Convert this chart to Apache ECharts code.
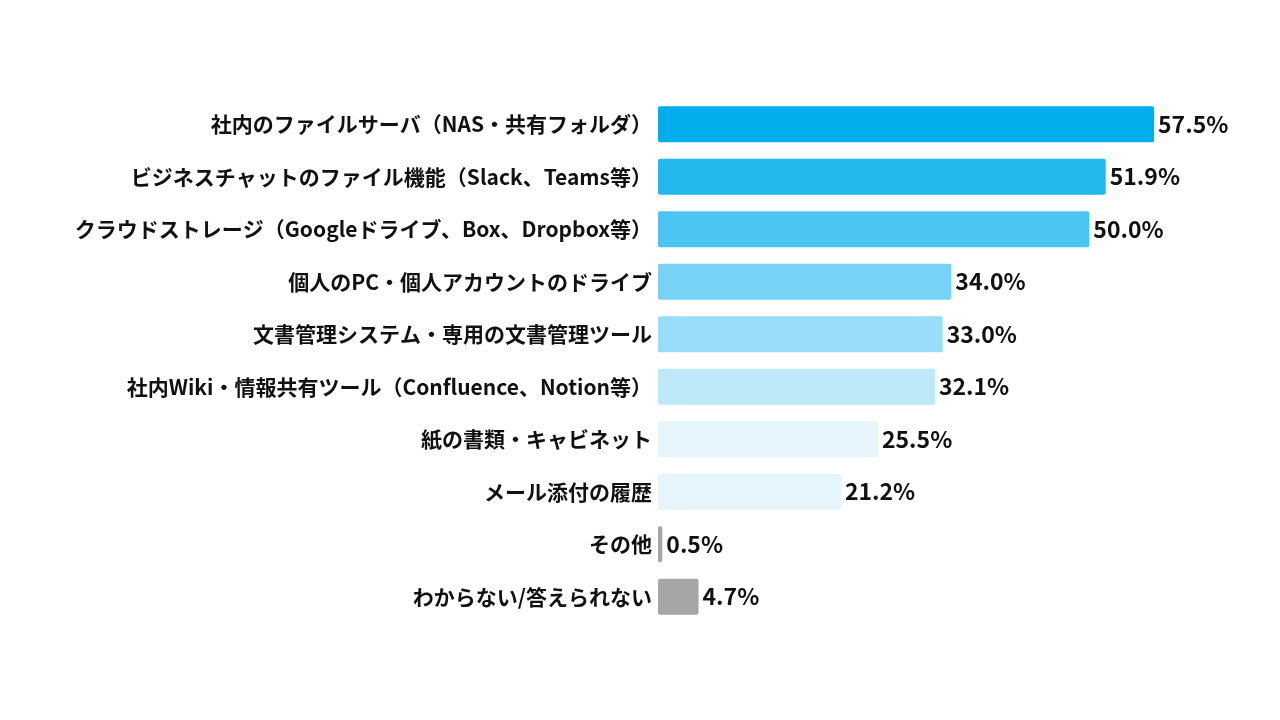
<!DOCTYPE html>
<html>
<head>
<meta charset="utf-8">
<script src="https://cdn.jsdelivr.net/npm/echarts@6/dist/echarts.min.js"></script>
<style>
html, body { margin: 0; padding: 0; background: #fff; }
#chart { width: 1280px; height: 720px; }
</style>
</head>
<body>
<div id="chart"></div>
<script>
var categories = [
	"社内のファイルサーバ（NAS・共有フォルダ）",
	"ビジネスチャットのファイル機能（Slack、Teams等）",
	"クラウドストレージ（Googleドライブ、Box、Dropbox等）",
	"個人のPC・個人アカウントのドライブ",
	"文書管理システム・専用の文書管理ツール",
	"社内Wiki・情報共有ツール（Confluence、Notion等）",
	"紙の書類・キャビネット",
	"メール添付の履歴",
	"その他",
	"わからない/答えられない"
];
var values = [57.5, 51.9, 50.0, 34.0, 33.0, 32.1, 25.5, 21.2, 0.5, 4.7];
var barColors = [
	"#00aeeb", "#22b7ed", "#4dc5f1", "#77d2f5", "#97ddf7",
	"#bee9f9", "#e5f5fb", "#e5f5fb", "#a6a6a6", "#a6a6a6"
];

var chart = echarts.init(document.getElementById("chart"), null, { renderer: "canvas" });
var font = "'Noto Sans CJK JP', 'Noto Sans', sans-serif";

chart.setOption({
	backgroundColor: "#ffffff",
	animation: false,
	grid: {
		left: 658,
		top: 98,
		width: 517.6,
		height: 525
	},
	xAxis: {
		type: "value",
		min: 0,
		max: 60,
		show: false
	},
	yAxis: {
		type: "category",
		inverse: true,
		data: categories,
		axisLine: { show: false },
		axisTick: { show: false },
		axisLabel: {
			color: "#111",
			fontFamily: font,
			fontWeight: "bold",
			fontSize: 21,
			margin: 6
		}
	},
	series: [{
		type: "bar",
		barWidth: 36,
		data: values.map(function(v, i) {
			return { value: v, itemStyle: { color: barColors[i], borderRadius: 2 } };
		}),
		label: {
			show: true,
			position: "right",
			distance: 4,
			color: "#111",
			fontFamily: font,
			fontWeight: "bold",
			fontSize: 23,
			formatter: function(p) {
				return p.value.toFixed(1) + "%";
			}
		}
	}]
});
</script>
</body>
</html>
